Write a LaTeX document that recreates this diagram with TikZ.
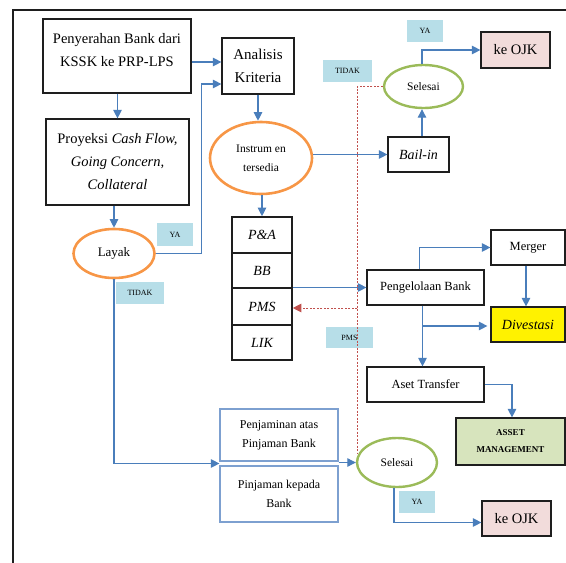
\documentclass[tikz,border=0pt]{standalone}
\usepackage{fontspec}
\setmainfont{Liberation Serif}
\usetikzlibrary{arrows.meta,calc,shapes.geometric}
\definecolor{flowblue}{RGB}{74,126,187}
\definecolor{ovalorange}{RGB}{247,150,70}
\definecolor{ovalgreen}{RGB}{155,187,89}
\definecolor{tagblue}{RGB}{183,222,232}
\definecolor{backred}{RGB}{192,80,77}
\definecolor{ojkpink}{RGB}{242,220,219}
\definecolor{amgreen}{RGB}{215,228,189}
\definecolor{boxline}{RGB}{30,30,30}
\definecolor{pjline}{RGB}{125,160,208}
\begin{document}
\begin{tikzpicture}[x=1pt,y=-1pt,
  box/.style={draw=boxline,line width=1.2pt,inner sep=0pt,align=center},
  cell/.style={draw=boxline,line width=1.6pt,inner sep=0pt,minimum width=60pt,font=\fontsize{14}{16}\selectfont\itshape},
  pjbox/.style={draw=pjline,line width=1.2pt,inner sep=0pt,align=center,minimum width=118pt,font=\fontsize{12}{19}\selectfont},
  txt/.style={inner sep=0pt,align=center},
  oval/.style={ellipse,draw=ovalorange,line width=2.6pt,inner sep=0pt},
  goval/.style={ellipse,draw=ovalgreen,line width=2.4pt,inner sep=0pt,font=\fontsize{11.5}{14}\selectfont},
  tag/.style={fill=tagblue,inner sep=0pt,font=\fontsize{8}{10}\selectfont},
  arr/.style={draw=flowblue,line width=1.1pt,-{Triangle[length=8.5pt,width=8.5pt]}},
  backline/.style={draw=backred,line width=0.9pt,dash pattern=on 2pt off 1.5pt},
  backarr/.style={backline,-{Triangle[length=8.5pt,width=8.5pt]}}]
\useasboundingbox (0,0) rectangle (566,563);

% outer frame (left and top edges)
\draw[draw=boxline,line width=1.2pt] (13,563) -- (13,10) -- (566,10);

% left column
\node[box,minimum width=148pt,minimum height=74pt] (pen) at (117,56) {};
\node[txt,font=\fontsize{14.5}{23}\selectfont] (pentxt) at (117,50) {Penyerahan Bank dari\\KSSK ke PRP-LPS};
\node[box,minimum width=143pt,minimum height=86pt,font=\fontsize{14.5}{23}\selectfont] (proy) at (117.5,162)
  {Proyeksi \textit{Cash Flow,}\\\textit{Going Concern,}\\\textit{Collateral}};
\node[oval,minimum width=81pt,minimum height=49pt,font=\fontsize{13}{15}\selectfont] (layak) at (114,253.5) {Layak};
\node[tag,minimum width=36pt,minimum height=23pt] (ya1) at (175,234.5) {YA};
\node[tag,minimum width=48pt,minimum height=22pt] (tidak1) at (140,293) {TIDAK};

% middle column
\node[box,minimum width=72pt,minimum height=56pt,font=\fontsize{15}{23}\selectfont] (ana) at (258,66) {Analisis\\Kriteria};
\node[oval,minimum width=102pt,minimum height=72pt,align=center,font=\fontsize{11.5}{19}\selectfont] (ins) at (261,158) {Instrum en\\tersedia};
\node[cell,minimum height=36pt] (pa) at (262,235) {P\&A};
\node[cell,minimum height=35pt] (bb) at (262,270.5) {BB};
\node[cell,minimum height=37pt] (pms) at (262,306.5) {PMS};
\node[cell,minimum height=35pt] (lik) at (262,342.5) {LIK};
\node[pjbox,minimum height=52pt] (pj1) at (279,435) {Penjaminan atas\\Pinjaman Bank};
\node[pjbox,minimum height=56pt] (pj2) at (279,494) {Pinjaman kepada\\Bank};

% right column
\node[tag,minimum width=49pt,minimum height=22pt] (tidak2) at (347.5,71) {TIDAK};
\node[tag,minimum width=36pt,minimum height=22pt] (ya2) at (425,31) {YA};
\node[goval,minimum width=79pt,minimum height=43pt] (sel1) at (423.5,86.5) {Selesai};
\node[box,minimum width=69pt,minimum height=36pt,fill=ojkpink,font=\fontsize{14.5}{16}\selectfont] (ojk1) at (515.5,50) {ke OJK};
\node[box,minimum width=61pt,minimum height=35pt,font=\fontsize{14}{16}\selectfont\itshape] (bail) at (418.5,154.5) {Bail-in};
\node[box,minimum width=117pt,minimum height=35pt,font=\fontsize{12.5}{15}\selectfont] (peng) at (425.5,287.5) {Pengelolaan Bank};
\node[box,minimum width=74pt,minimum height=35pt,font=\fontsize{12.5}{15}\selectfont] (merger) at (528,247.5) {Merger};
\node[box,minimum width=74pt,minimum height=35pt,fill=yellow,font=\fontsize{14}{16}\selectfont\itshape] (div) at (528,324.5) {Divestasi};
\node[tag,minimum width=47pt,minimum height=21pt] (pmstag) at (349.5,337.5) {PMS};
\node[box,minimum width=117pt,minimum height=35pt,font=\fontsize{12.5}{15}\selectfont] (aset) at (425.5,384.5) {Aset Transfer};
\node[box,minimum width=109pt,minimum height=47pt,fill=amgreen,font=\fontsize{9}{17}\selectfont\bfseries] (am) at (510.5,441.5) {ASSET\\MANAGEMENT};
\node[goval,minimum width=80pt,minimum height=49pt] (sel2) at (397,462.5) {Selesai};
\node[tag,minimum width=36pt,minimum height=22pt] (ya3) at (417,502) {YA};
\node[box,minimum width=69pt,minimum height=35pt,fill=ojkpink,font=\fontsize{14.5}{16}\selectfont] (ojk2) at (516.5,518.5) {ke OJK};

% connectors
\draw[arr] ($(pen.east)+(0,6)$) -- ($(ana.west)+(0,-4)$);
\draw[arr] (pen.south -| proy.north) -- (proy.north);
\draw[arr] (proy.south -| layak.north) -- (layak.north);
\draw[arr] (layak.east) -| ($(ana.west)+(-20,18)$) -- ($(ana.west)+(0,18)$);
\draw[arr] (ana.south) -- (ana.south |- ins.north);
\draw[arr] (ins.south -| pa.north) -- (pa.north);
\draw[arr] (ins.east |- bail.west) -- (bail.west);
\draw[arr] ($(sel1.south |- bail.north)+(-1.5,0)$) -- ($(sel1.south)+(-1.5,0)$);
\draw[arr] ($(sel1.north)+(-1.5,0)$) |- (ojk1.west);
\draw[arr] (peng.west -| pa.east) -- (peng.west);
\draw[arr] ($(peng.north)+(-6,0)$) |- (merger.west);
\draw[arr] ($(merger.south)+(-2,0)$) -- ($(div.north)+(-2,0)$);
\coordinate (trunk) at ($(peng.south)+(-3,0)$);
\coordinate (branch) at ($(div.west)+(-3,1.5)$);
\draw[arr] (trunk) -- (trunk |- aset.north);
\draw[arr] (trunk |- branch) -- (branch);
\draw[arr] (aset.east) -| ($(am.north)+(1.5,0)$);
\draw[arr] (layak.south) |- ($(pj1.south west)!0.5!(pj2.north west)$);
\draw[arr] (sel2.west -| pj1.east) -- (sel2.west);
\draw[arr] ($(sel2.south)+(-3,0)$) |- ($(ojk2.west)+(0,4)$);

% return path for PMS
\coordinate (tidakend) at (357,453);
\draw[backline] (sel1.west) -| (tidakend);
\draw[backarr] ($(pms.east -| tidakend)+(0,1.5)$) -- ($(pms.east)+(0,1.5)$);
\end{tikzpicture}
\end{document}
